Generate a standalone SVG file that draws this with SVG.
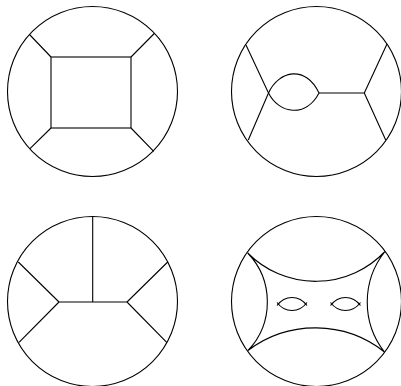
<svg xmlns="http://www.w3.org/2000/svg" width="401" height="386" viewBox="0 0 401 386">
<style>
.c{fill:none;stroke:#000;stroke-width:1.1}
</style>
<rect width="401" height="386" fill="#fff"/>
<g id="panel1">
<circle class="c" cx="92.5" cy="91.5" r="85"/>
<rect class="c" x="51" y="57" width="80" height="71"/>
<path class="c" d="M51,57L29.5,34.5M131,57L154.3,33.5M51,128L30,148.7M131,128L153.7,151.3"/>
</g>
<g id="panel2">
<circle class="c" cx="316.5" cy="91.5" r="85"/>
<path class="c" d="M246,45L268.5,93L248.3,140M319,93L364.3,93M364.3,93L387,44M364.3,93L385.7,140"/>
<path class="c" d="M268.5,93C279,70 306,65 319,93C306,118 279,114 268.5,93"/>
</g>
<g id="panel3">
<circle class="c" cx="92.5" cy="301.5" r="85"/>
<path class="c" d="M92.7,216.5L92.7,302M59,302L127,302M59,302L18.3,262M59,302L19,342.3M127,302L167.7,262M127,302L166.7,342.3"/>
</g>
<g id="panel4">
<circle class="c" cx="316.5" cy="301.5" r="85"/>
<path class="c" d="M247.7,253A95.6,95.6 0 0 0 385,251.5M248,350.5A111.5,111.5 0 0 1 384.5,352M247.7,253A70.7,70.7 0 0 1 248,350.5M385,251.5A80.9,80.9 0 0 0 384.5,352"/>
<path class="c" d="M277,305.5C285,294.8 299,294.8 307,305.5M277,302.5C285,313.2 299,313.2 307,302.5"/>
<path class="c" d="M330.5,305.5C338.5,294.8 352.5,294.8 360.5,305.5M330.5,302.5C338.5,313.2 352.5,313.2 360.5,302.5"/>
</g>
</svg>
